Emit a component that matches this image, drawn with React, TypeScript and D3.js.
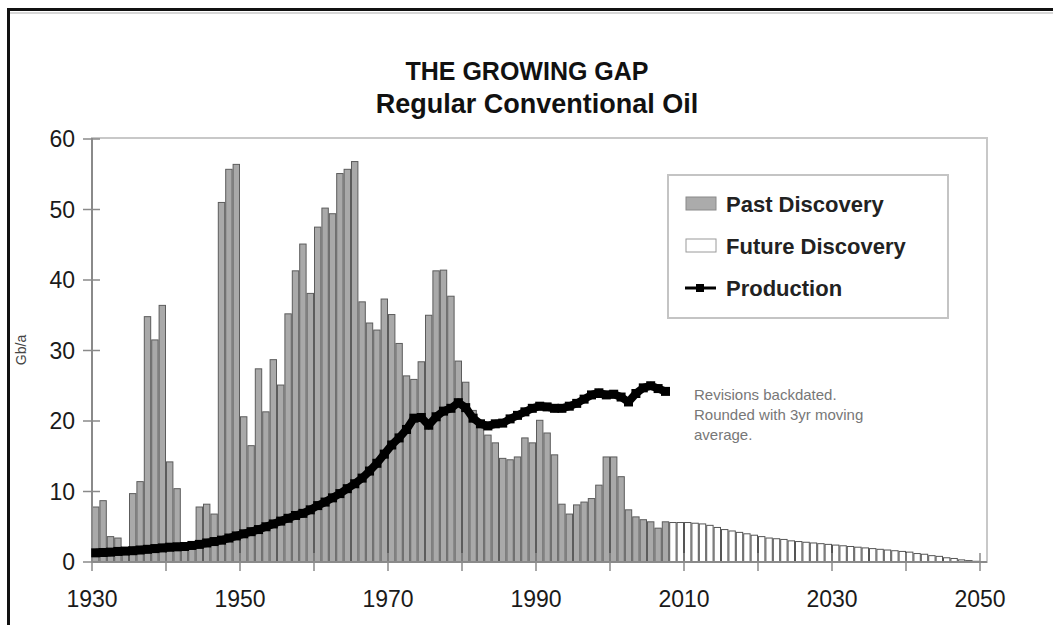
import React from "react";
import * as d3 from "d3";

const pastYears: number[] = d3.range(1930, 2008);
const pastValues: number[] = [
  7.8, 8.7, 3.6, 3.4, 2.0, 9.7, 11.4, 34.8, 31.5, 36.4,
  14.2, 10.4, 2.0, 1.8, 7.8, 8.2, 6.8, 51.0, 55.7, 56.4,
  20.6, 16.5, 27.4, 21.3, 28.7, 25.1, 35.2, 41.3, 45.1, 38.1,
  47.5, 50.2, 49.4, 55.1, 55.7, 56.8, 36.9, 33.9, 32.9, 37.3,
  35.1, 31.0, 26.4, 25.9, 28.4, 35.0, 41.3, 41.4, 37.7, 28.5,
  25.5, 21.5, 19.5, 18.0, 16.9, 14.7, 14.5, 14.9, 17.6, 16.9,
  20.1, 18.3, 15.2, 8.2, 6.8, 8.1, 8.5, 9.0, 10.9, 14.9,
  14.9, 12.1, 7.4, 6.4, 6.0, 5.7, 4.8, 5.7,
];

const futureYears: number[] = d3.range(2008, 2050);
const futureValues: number[] = [
  5.6, 5.6, 5.6, 5.5, 5.4, 5.2, 4.9, 4.6, 4.4, 4.2,
  4.0, 3.8, 3.6, 3.4, 3.3, 3.2, 3.0, 2.9, 2.8, 2.7,
  2.6, 2.5, 2.4, 2.3, 2.2, 2.1, 2.0, 1.9, 1.8, 1.7,
  1.6, 1.5, 1.4, 1.2, 1.1, 0.9, 0.8, 0.6, 0.5, 0.3,
  0.2, 0.1,
];

const productionYears: number[] = d3.range(1930, 2008);
const productionValues: number[] = [
  1.3, 1.35, 1.4, 1.5, 1.55, 1.6, 1.7, 1.8, 1.9, 2.0,
  2.1, 2.15, 2.2, 2.35, 2.5, 2.7, 2.9, 3.1, 3.4, 3.7,
  4.0, 4.3, 4.6, 5.0, 5.4, 5.8, 6.2, 6.6, 6.9, 7.4,
  8.0, 8.5, 9.1, 9.7, 10.4, 11.1, 11.9, 12.9, 14.0, 15.3,
  16.6, 17.6, 18.8, 20.4, 20.5, 19.4, 20.6, 21.4, 21.8, 22.6,
  21.9, 20.4, 19.6, 19.3, 19.6, 19.7, 20.3, 20.8, 21.3, 21.8,
  22.1, 22.0, 21.8, 21.8, 22.1, 22.5, 23.1, 23.7, 24.0, 23.7,
  23.8, 23.4, 22.7, 23.9, 24.7, 25.0, 24.6, 24.2,
];

const xTicks: number[] = [1930, 1950, 1970, 1990, 2010, 2030, 2050];
const yTicks: number[] = [0, 10, 20, 30, 40, 50, 60];

const titleLines: string[] = ["THE GROWING GAP", "Regular Conventional Oil"];
const legendLabels: string[] = ["Past Discovery", "Future Discovery", "Production"];
const noteLines: string[] = ["Revisions backdated.", "Rounded with 3yr moving", "average."];
const yAxisLabel = "Gb/a";

const W = 1053;
const H = 625;
const FONT = "'Liberation Sans', Arial, sans-serif";

export default function App() {
  const x = d3.scaleLinear().domain([1930, 2050]).range([92, 980]);
  const y = d3.scaleLinear().domain([0, 60]).range([562, 139]);
  const step = x(1931) - x(1930);

  const line = d3
    .line<number>()
    .x((_, i) => x(productionYears[i]) + step / 2)
    .y((d) => y(d));

  const plotRight = 987;
  const plotTop = 138;

  return (
    <svg
      width={W}
      height={H}
      viewBox={`0 0 ${W} ${H}`}
      style={{ position: "absolute", left: 0, top: 0, display: "block", background: "#fff" }}
    >
      {/* outer frame */}
      <line x1={7} y1={9.5} x2={W} y2={9.5} stroke="#111" strokeWidth={3} />
      <line x1={8.5} y1={8} x2={8.5} y2={H} stroke="#111" strokeWidth={3} />
      <line x1={10} y1={13} x2={W} y2={13} stroke="#d6d6d6" strokeWidth={2} />

      {/* titles */}
      <text x={527} y={80} textAnchor="middle" fontFamily={FONT} fontSize={25} fontWeight="bold" fill="#111">
        {titleLines[0]}
      </text>
      <text x={537} y={113} textAnchor="middle" fontFamily={FONT} fontSize={27} fontWeight="bold" fill="#111">
        {titleLines[1]}
      </text>

      {/* plot frame */}
      <rect x={92} y={plotTop} width={plotRight - 92} height={562 - plotTop} fill="none" stroke="#c8c8c8" strokeWidth={2} />

      {/* y label */}
      <text
        transform="translate(26,350) rotate(-90)"
        textAnchor="middle"
        fontFamily={FONT}
        fontSize={14}
        fill="#444"
      >
        {yAxisLabel}
      </text>

      {/* future bars */}
      {futureYears.map((yr, i) => (
        <rect
          key={"f" + yr}
          x={x(yr) + 0.5}
          y={y(futureValues[i])}
          width={step - 1}
          height={y(0) - y(futureValues[i])}
          fill="#fff"
          stroke="#555"
          strokeWidth={1}
        />
      ))}

      {/* past bars */}
      {pastYears.map((yr, i) => (
        <rect
          key={"p" + yr}
          x={x(yr) + 0.5}
          y={y(pastValues[i])}
          width={step - 1}
          height={y(0) - y(pastValues[i])}
          fill="#a9a9a9"
          stroke="#5c5c5c"
          strokeWidth={1}
        />
      ))}

      {/* axes */}
      <line x1={92} y1={plotTop} x2={92} y2={562} stroke="#8a8a8a" strokeWidth={2} />
      <line x1={92} y1={562} x2={plotRight} y2={562} stroke="#8a8a8a" strokeWidth={2} />
      {yTicks.map((t) => (
        <g key={"yt" + t}>
          <line x1={83} x2={100} y1={y(t)} y2={y(t)} stroke="#8a8a8a" strokeWidth={1.5} />
          <text x={75} y={y(t)} dy="0.36em" textAnchor="end" fontFamily={FONT} fontSize={23} fill="#1a1a1a">
            {t}
          </text>
        </g>
      ))}
      {d3.range(1930, 2051, 10).map((t) => (
        <line key={"xt" + t} x1={x(t)} x2={x(t)} y1={553} y2={571} stroke="#8a8a8a" strokeWidth={1.5} />
      ))}
      {xTicks.map((t) => (
        <text key={"xl" + t} x={x(t)} y={607} textAnchor="middle" fontFamily={FONT} fontSize={23} fill="#1a1a1a">
          {t}
        </text>
      ))}

      {/* production line */}
      <path
        d={line(productionValues) || ""}
        fill="none"
        stroke="#000"
        strokeWidth={8}
        strokeLinejoin="round"
      />
      {productionValues.map((v, i) => (
        <rect
          key={"m" + i}
          x={x(productionYears[i]) + step / 2 - 4.5}
          y={y(v) - 4.5}
          width={9}
          height={9}
          fill="#000"
        />
      ))}

      {/* legend */}
      <rect x={668} y={175} width={280} height={143} fill="#fff" stroke="#c4c4c4" strokeWidth={2} />
      <rect x={686} y={197} width={30} height={13} fill="#ababab" stroke="#8a8a8a" strokeWidth={1} />
      <rect x={686} y={239} width={30} height={13} fill="#fff" stroke="#9a9a9a" strokeWidth={1} />
      <line x1={685} x2={716} y1={288} y2={288} stroke="#000" strokeWidth={3} />
      <rect x={696} y={284} width={8} height={8} fill="#000" />
      {legendLabels.map((l, i) => (
        <text
          key={l}
          x={726}
          y={[204, 246, 288][i]}
          dy="0.36em"
          fontFamily={FONT}
          fontSize={22}
          fontWeight="bold"
          fill="#222"
        >
          {l}
        </text>
      ))}

      {/* note */}
      {noteLines.map((l, i) => (
        <text key={l} x={694} y={395 + i * 20} dy="0.36em" fontFamily={FONT} fontSize={15} fill="#777">
          {l}
        </text>
      ))}
    </svg>
  );
}
